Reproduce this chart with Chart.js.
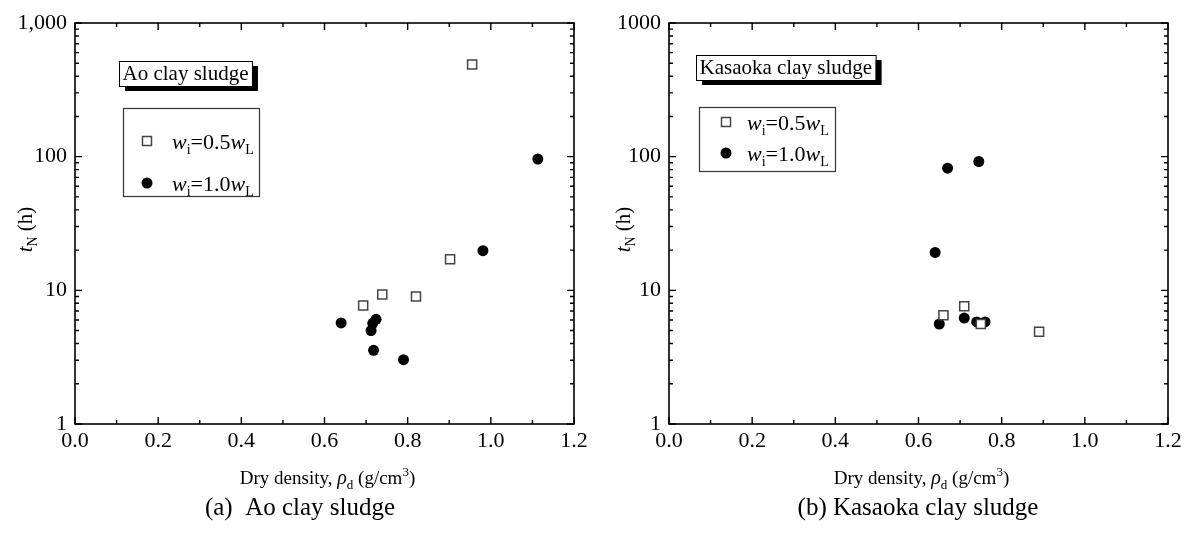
<!DOCTYPE html>
<html>
<head>
<meta charset="utf-8">
<script src="https://cdn.jsdelivr.net/npm/chart.js@4/dist/chart.umd.min.js"></script>
<style>
  body { margin: 0; background: #fff; }
  .panel { position: absolute; top: 0; width: 595px; height: 534px; }
</style>
</head>
<body>
<div class="panel" style="left:0"><canvas id="chartA" width="595" height="534"></canvas></div>
<div class="panel" style="left:595px"><canvas id="chartB" width="595" height="534"></canvas></div>
<script>
// Ao clay sludge
var aoX05 = [0.693, 0.739, 0.820, 0.902, 0.955];
var aoY05 = [7.7, 9.3, 9.0, 17.1, 490];
var aoX10 = [0.640, 0.716, 0.712, 0.724, 0.718, 0.790, 0.981, 1.113];
var aoY10 = [5.7, 5.66, 5.0, 6.07, 3.56, 3.03, 19.8, 96];

// Kasaoka clay sludge
var kaX05 = [0.66, 0.71, 0.75, 0.89];
var kaY05 = [6.5, 7.6, 5.6, 4.9];
var kaX10 = [0.64, 0.65, 0.67, 0.71, 0.74, 0.745, 0.76];
var kaY10 = [19.2, 5.6, 82, 6.2, 5.8, 92, 5.8];

var xTicks = [0, 0.2, 0.4, 0.6, 0.8, 1.0, 1.2];
var yTicks = [1, 10, 100, 1000];
var yLabelsA = ['1', '10', '100', '1,000'];
var yLabelsB = ['1', '10', '100', '1000'];

var SERIF = "'Liberation Serif', 'DejaVu Serif', serif";

function toPoints(xs, ys) {
  return xs.map(function (x, i) { return { x: x, y: ys[i] }; });
}

// Draw a run of text pieces (font, vertical shift) centred or left aligned.
function drawRich(ctx, parts, x, y, align) {
  var total = 0;
  parts.forEach(function (p) {
    ctx.font = p.font;
    p.w = ctx.measureText(p.t).width;
    total += p.w;
  });
  var cx = align === 'center' ? x - total / 2 : x;
  ctx.textAlign = 'left';
  ctx.textBaseline = 'alphabetic';
  parts.forEach(function (p) {
    ctx.font = p.font;
    ctx.fillText(p.t, cx, y + (p.dy || 0));
    cx += p.w;
  });
}

function legendText(val) {
  return [
    { t: 'w', font: 'italic 22px ' + SERIF },
    { t: 'i', font: '14px ' + SERIF, dy: 5 },
    { t: '=' + val, font: '22px ' + SERIF },
    { t: 'w', font: 'italic 22px ' + SERIF },
    { t: 'L', font: '14px ' + SERIF, dy: 5 }
  ];
}

var framePlugin = {
  id: 'frame',
  afterDraw: function (chart) {
    var ctx = chart.ctx;
    var a = chart.chartArea;
    var xs = chart.scales.x;
    var ys = chart.scales.y;
    var cfg = chart.options.plugins.frame;
    var i, d, px, py;

    ctx.save();
    ctx.strokeStyle = '#000';
    ctx.lineWidth = 1.6;
    ctx.strokeRect(a.left, a.top, a.right - a.left, a.bottom - a.top);

    // Inward ticks on all four sides.
    ctx.lineWidth = 1.4;
    ctx.beginPath();
    for (i = 0; i <= 12; i++) {
      px = xs.getPixelForValue(i / 10);
      var len = i % 2 === 0 ? 7 : 4;
      ctx.moveTo(px, a.bottom); ctx.lineTo(px, a.bottom - len);
      ctx.moveTo(px, a.top); ctx.lineTo(px, a.top + len);
    }
    for (d = 1; d <= 1000; d *= 10) {
      for (i = 1; i <= 9; i++) {
        if (d * i > 1000) break;
        py = ys.getPixelForValue(d * i);
        var l = i === 1 ? 7 : 4;
        ctx.moveTo(a.left, py); ctx.lineTo(a.left + l, py);
        ctx.moveTo(a.right, py); ctx.lineTo(a.right - l, py);
      }
    }
    ctx.stroke();

    ctx.fillStyle = '#000';
    var midX = (a.left + a.right) / 2;

    // x axis title
    drawRich(ctx, [
      { t: 'Dry density, ', font: '19px ' + SERIF },
      { t: '\u03C1', font: 'italic 20px ' + SERIF },
      { t: 'd', font: '13px ' + SERIF, dy: 5 },
      { t: ' (g/cm', font: '19px ' + SERIF },
      { t: '3', font: '13px ' + SERIF, dy: -8 },
      { t: ')', font: '19px ' + SERIF }
    ], midX + 3, 484, 'center');

    // y axis title
    ctx.save();
    ctx.translate(cfg.yTitleX, (a.top + a.bottom) / 2 + 6);
    ctx.rotate(-Math.PI / 2);
    drawRich(ctx, [
      { t: 't', font: 'italic 21px ' + SERIF },
      { t: 'N', font: '14px ' + SERIF, dy: 5 },
      { t: ' (h)', font: '21px ' + SERIF }
    ], 0, 7, 'center');
    ctx.restore();

    // caption
    drawRich(ctx, [{ t: cfg.caption, font: '25px ' + SERIF }], cfg.captionX, 515, 'center');

    // title box with shadow
    ctx.font = '21px ' + SERIF;
    var tw = ctx.measureText(cfg.title).width;
    var bx = cfg.titleX, by = cfg.titleY, bw = tw + 7, bh = 25;
    ctx.fillStyle = '#000';
    ctx.fillRect(bx + 6, by + 5, bw, bh);
    ctx.fillStyle = '#fff';
    ctx.fillRect(bx, by, bw, bh);
    ctx.lineWidth = 1;
    ctx.strokeStyle = '#000';
    ctx.strokeRect(bx + 0.5, by + 0.5, bw, bh);
    ctx.fillStyle = '#000';
    ctx.textAlign = 'left';
    ctx.textBaseline = 'alphabetic';
    ctx.fillText(cfg.title, bx + 3.5, by + 19);

    // legend box
    var lg = cfg.legend;
    ctx.lineWidth = 1.2;
    ctx.strokeStyle = '#333';
    ctx.strokeRect(lg.x + 0.5, lg.y + 0.5, lg.w, lg.h);
    ctx.lineWidth = 1.5;
    ctx.strokeStyle = '#444';
    ctx.strokeRect(lg.mx - 4.5, lg.r1 - 4.5, 9, 9);
    ctx.beginPath();
    ctx.arc(lg.mx, lg.r2, 5.5, 0, 2 * Math.PI);
    ctx.fill();
    drawRich(ctx, legendText('0.5'), lg.tx, lg.r1 + 8, 'left');
    drawRich(ctx, legendText('1.0'), lg.tx, lg.r2 + 8, 'left');
    ctx.restore();
  }
};

function makeChart(id, s05, s10, yLabels, pad, frameCfg) {
  return new Chart(document.getElementById(id), {
    type: 'scatter',
    plugins: [framePlugin],
    data: {
      datasets: [
        {
          label: 'wi=0.5wL',
          data: s05,
          pointStyle: 'rect',
          pointRadius: 6.4,
          pointBorderWidth: 1.5,
          borderColor: '#444',
          backgroundColor: '#fff'
        },
        {
          label: 'wi=1.0wL',
          data: s10,
          pointStyle: 'circle',
          pointRadius: 5.5,
          pointBorderWidth: 0,
          borderColor: '#000',
          backgroundColor: '#000'
        }
      ]
    },
    options: {
      responsive: false,
      animation: false,
      devicePixelRatio: 1,
      layout: { padding: { top: 23, right: pad.right, left: 0, bottom: 0 } },
      scales: {
        x: {
          type: 'linear',
          min: 0,
          max: 1.2,
          afterBuildTicks: function (scale) {
            scale.ticks = xTicks.map(function (v) { return { value: v }; });
          },
          afterFit: function (scale) { scale.height = 110; },
          ticks: {
            color: '#000',
            font: { family: SERIF, size: 22 },
            padding: 4,
            maxRotation: 0,
            autoSkip: false,
            callback: function (v) { return Number(v).toFixed(1); }
          },
          grid: { display: false, drawTicks: false },
          border: { display: false }
        },
        y: {
          type: 'logarithmic',
          min: 1,
          max: 1000,
          afterBuildTicks: function (scale) {
            scale.ticks = yTicks.map(function (v) { return { value: v }; });
          },
          afterFit: function (scale) { scale.width = pad.left; },
          ticks: {
            color: '#000',
            font: { family: SERIF, size: 22 },
            padding: 8,
            autoSkip: false,
            callback: function (v) { return yLabels[yTicks.indexOf(v)]; }
          },
          grid: { display: false, drawTicks: false },
          border: { display: false }
        }
      },
      plugins: {
        legend: { display: false },
        tooltip: { enabled: false },
        frame: frameCfg
      }
    }
  });
}

makeChart('chartA', toPoints(aoX05, aoY05), toPoints(aoX10, aoY10), yLabelsA,
  { left: 75, right: 21 },
  {
    caption: '(a)  Ao clay sludge', captionX: 300, yTitleX: 25,
    title: 'Ao clay sludge', titleX: 119, titleY: 61,
    legend: { x: 123, y: 108, w: 136, h: 88, mx: 147, r1: 141, r2: 183, tx: 172 }
  });

makeChart('chartB', toPoints(kaX05, kaY05), toPoints(kaX10, kaY10), yLabelsB,
  { left: 74, right: 22 },
  {
    caption: '(b) Kasaoka clay sludge', captionX: 323, yTitleX: 28,
    title: 'Kasaoka clay sludge', titleX: 101, titleY: 55,
    legend: { x: 104, y: 107, w: 136, h: 64, mx: 131, r1: 122, r2: 153, tx: 152 }
  });
</script>
</body>
</html>
